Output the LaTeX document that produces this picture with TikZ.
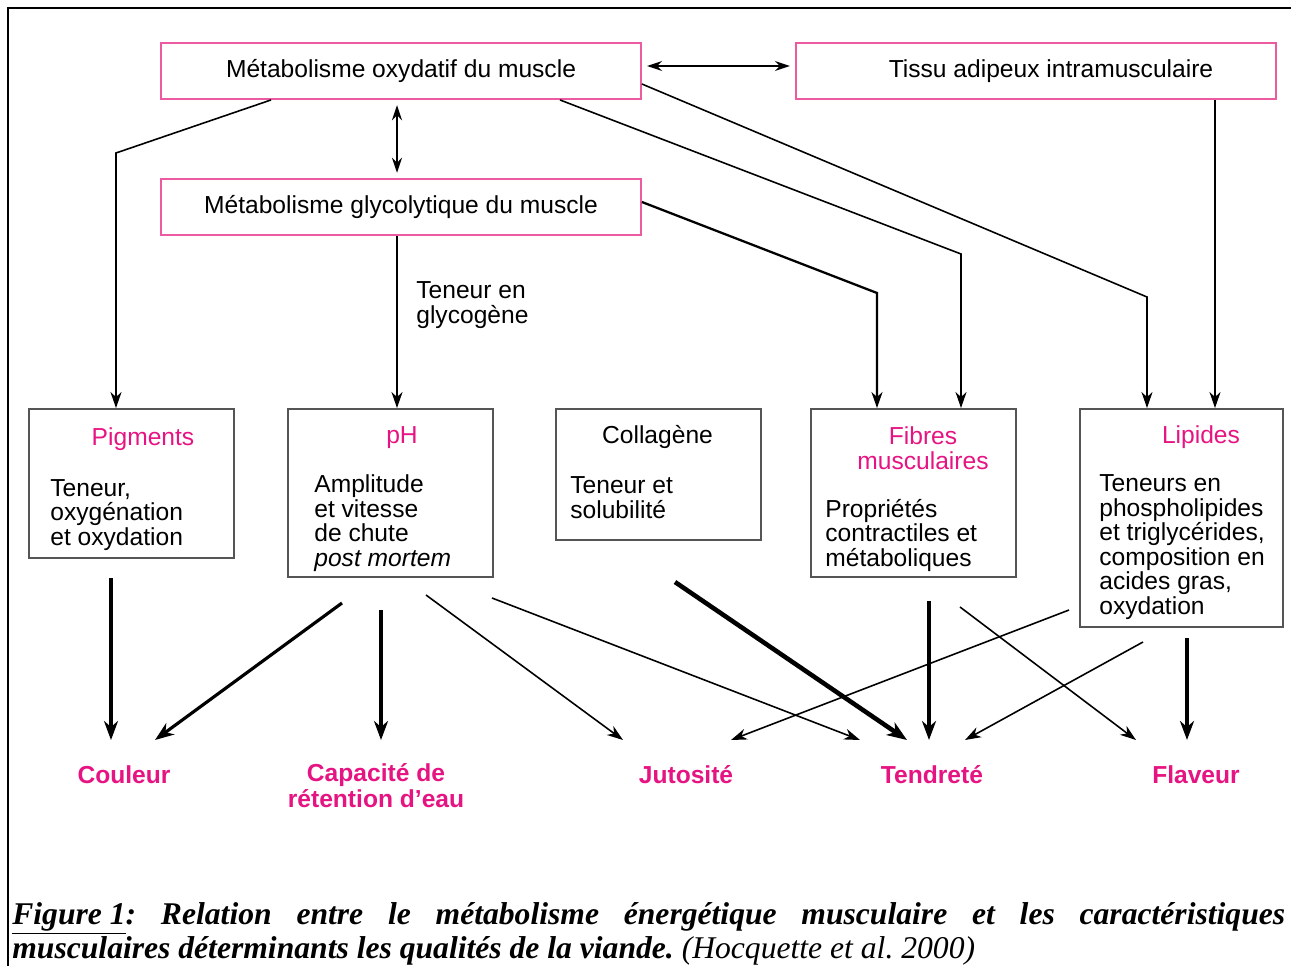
\documentclass[tikz,border=0pt]{standalone}
\usepackage{fontspec}
\setmainfont{Liberation Sans}
\newfontfamily\capfont{Liberation Serif}
\usetikzlibrary{arrows.meta}
\definecolor{rose}{RGB}{230,20,130}
\definecolor{roseline}{RGB}{236,90,160}
\definecolor{boxgray}{RGB}{85,85,85}

\begin{document}
\begin{tikzpicture}[x=0.02cm, y=-0.02cm,
  metabox/.style={draw=roseline, line width=1.1pt, minimum width=9.6cm, minimum height=1.12cm, inner sep=0pt, font=\fontsize{14}{14}\selectfont},
  carbox/.style={draw=boxgray, line width=1.1pt, minimum width=4.1cm, inner sep=0pt},
  titre/.style={text=rose, anchor=base, align=center, inner sep=0pt, font=\fontsize{14}{13.9}\selectfont},
  corps/.style={anchor=base west, align=left, inner sep=0pt, font=\fontsize{14}{13.9}\selectfont},
  qual/.style={text=rose, anchor=base, align=center, inner sep=0pt, font=\fontsize{14}{14.7}\selectfont\bfseries},
  arr/.style={-{Stealth[length=0.32cm,width=0.22cm,inset=0.1cm]}, line width=0.9pt},
  arrf/.style={-{Stealth[length=0.38cm,width=0.28cm,inset=0.12cm]}, line width=1.8pt},
  arrff/.style={-{Stealth[length=0.4cm,width=0.3cm,inset=0.12cm]}, line width=2.6pt},
  dbl/.style={{Stealth[length=0.3cm,width=0.2cm,inset=0.1cm]}-{Stealth[length=0.3cm,width=0.2cm,inset=0.1cm]}, line width=0.9pt, shorten <=3pt, shorten >=3pt}
]
  \useasboundingbox (0,0) rectangle (1291,966);
  \draw[line width=0.9pt] (8,966) -- (8,8) -- (1291,8);

  \node[metabox] (oxy)   at (401,71)  {Métabolisme oxydatif du muscle};
  \node[metabox] (tissu) at (1036,71) {\hspace*{0.6cm}Tissu adipeux intramusculaire};
  \node[metabox] (glyco) at (401,207) {Métabolisme glycolytique du muscle};

  \node[carbox, minimum height=2.98cm] (pig) at (131.5,483.5) {};
  \node[carbox, minimum height=3.36cm] (ph)  at (390.5,493) {};
  \node[carbox, minimum height=2.62cm] (col) at (658.5,474.5) {};
  \node[carbox, minimum height=3.36cm] (fib) at (913.5,493) {};
  \node[carbox, minimum height=4.36cm, minimum width=4.06cm] (lip) at (1181.5,518) {};

  \node[titre] (pig-t) at (143,445) {Pigments};
  \node[corps] (pig-c) at (50,545) {Teneur,\\oxygénation\\et oxydation};
  \node[titre] (ph-t) at (402,443) {pH};
  \node[corps] (ph-c) at (314,566) {Amplitude\\et vitesse\\de chute\\\textit{post mortem}};
  \node[titre, text=black] (col-t) at (657.5,443) {Collagène};
  \node[corps] (col-c) at (570,518) {Teneur et\\solubilité};
  \node[titre] (fib-t) at (923,469) {Fibres\\musculaires};
  \node[corps] (fib-c) at (825,566) {Propriétés\\contractiles et\\métaboliques};
  \node[titre] (lip-t) at (1201,443) {Lipides};
  \node[corps] (lip-c) at (1099,614) {Teneurs en\\phospholipides\\et triglycérides,\\composition en\\acides gras,\\oxydation};
  \node[corps] (glyc) at (416,323) {Teneur en\\glycogène};

  \node[qual] (cou) at (124,783) {Couleur};
  \node[qual] (cap) at (376,807) {Capacité de\\rétention d’eau};
  \node[qual] (jut) at (686,783) {Jutosité};
  \node[qual] (ten) at (932,783) {Tendreté};
  \node[qual] (fla) at (1196,783) {Flaveur};

  \draw[dbl] (oxy.east |- 0,66) -- (tissu.west |- 0,66);
  \draw[dbl] (oxy.south -| 397,0) -- (glyco.north -| 397,0);

  \coordinate (k1) at (116,153);
  \coordinate (k2) at (961,254);
  \coordinate (k3) at (877,293);
  \coordinate (k4) at (1147,297);
  \draw[arr] (oxy.south -| 271,0) -- (k1) -- (k1 |- pig.north);
  \draw[arr] (glyco.south -| 397,0) -- (397,0 |- ph.north);
  \draw[arr] (oxy.south -| 560,0) -- (k2) -- (k2 |- fib.north);
  \draw[arr, line width=1.3pt] (glyco.east |- 0,202) -- (k3) -- (k3 |- fib.north);
  \draw[arr] (oxy.east |- 0,84) -- (k4) -- (k4 |- lip.north);
  \draw[arr] (tissu.south -| 1215,0) -- (1215,0 |- lip.north);

  \coordinate (pig-a) at (111,578);  \coordinate (cou-a) at (111,740);
  \coordinate (ph-a)  at (342,603);  \coordinate (cou-b) at (155,740);
  \coordinate (ph-b)  at (381,610);  \coordinate (cap-a) at (381,740);
  \coordinate (ph-c)  at (426,595);  \coordinate (jut-a) at (623,740);
  \coordinate (ph-d)  at (492,598);  \coordinate (ten-a) at (860,740);
  \coordinate (col-a) at (675,582);  \coordinate (ten-b) at (907,740);
  \coordinate (fib-a) at (929,601);  \coordinate (ten-c) at (929,740);
  \coordinate (fib-b) at (960,607);  \coordinate (fla-a) at (1136,740);
  \coordinate (lip-a) at (1069,610); \coordinate (jut-b) at (731,740);
  \coordinate (lip-b) at (1143,642); \coordinate (ten-d) at (965,740);
  \coordinate (lip-c) at (1187,638); \coordinate (fla-b) at (1187,740);
  \draw[arrf]  (pig-a) -- (cou-a);
  \draw[arrf]  (ph-a)  -- (cou-b);
  \draw[arrf]  (ph-b)  -- (cap-a);
  \draw[arr]   (ph-c)  -- (jut-a);
  \draw[arr]   (ph-d)  -- (ten-a);
  \draw[arrff] (col-a) -- (ten-b);
  \draw[arrf]  (fib-a) -- (ten-c);
  \draw[arr]   (fib-b) -- (fla-a);
  \draw[arr]   (lip-a) -- (jut-b);
  \draw[arr]   (lip-b) -- (ten-d);
  \draw[arrf]  (lip-c) -- (fla-b);

  \node[anchor=north west, text width=25.46cm, align=justify, inner sep=0pt, font=\capfont\fontsize{18}{18.2}\selectfont] (leg) at (12,902)
    {\frenchspacing\bfseries\itshape \underline{Figure 1}: Relation entre le métabolisme énergétique musculaire et les caractéristiques\linebreak musculaires déterminants les qualités de la viande. {\mdseries (Hocquette et al. 2000)}};
\end{tikzpicture}
\end{document}
